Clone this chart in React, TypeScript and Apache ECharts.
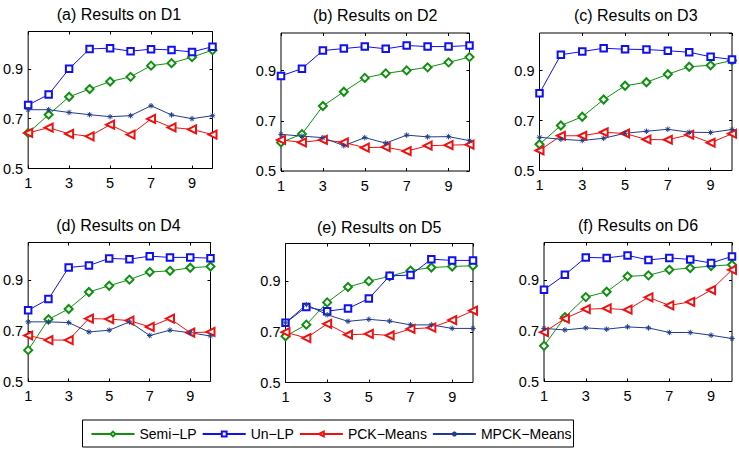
import React, { useEffect, useRef } from "react";
import * as echarts from "echarts";

// Number of constraint levels on the horizontal axis
const levels = [1, 2, 3, 4, 5, 6, 7, 8, 9, 10];

const panelTitles = [
  "(a) Results on D1",
  "(b) Results on D2",
  "(c) Results on D3",
  "(d) Results on D4",
  "(e) Results on D5",
  "(f) Results on D6",
];

const methodNames = ["Semi−LP", "Un−LP", "PCK−Means", "MPCK−Means"];

// One row per data set (D1..D6), one value per level
const semiLP = [
  [0.643, 0.716, 0.788, 0.819, 0.849, 0.868, 0.913, 0.923, 0.947, 0.975],
  [0.614, 0.647, 0.759, 0.816, 0.871, 0.889, 0.901, 0.913, 0.933, 0.954],
  [0.605, 0.68, 0.715, 0.784, 0.839, 0.853, 0.885, 0.915, 0.921, 0.94],
  [0.624, 0.746, 0.787, 0.854, 0.879, 0.903, 0.933, 0.938, 0.95, 0.955],
  [0.683, 0.729, 0.817, 0.878, 0.901, 0.92, 0.943, 0.955, 0.959, 0.962],
  [0.641, 0.755, 0.834, 0.855, 0.916, 0.92, 0.942, 0.949, 0.957, 0.962],
];

const unLP = [
  [0.755, 0.797, 0.9, 0.98, 0.983, 0.971, 0.979, 0.976, 0.968, 0.989],
  [0.879, 0.908, 0.98, 0.988, 0.996, 0.987, 1.0, 0.996, 0.996, 1.0],
  [0.809, 0.963, 0.976, 0.989, 0.985, 0.984, 0.979, 0.973, 0.955, 0.944],
  [0.782, 0.826, 0.951, 0.959, 0.987, 0.984, 0.996, 0.991, 0.991, 0.988],
  [0.736, 0.799, 0.782, 0.793, 0.832, 0.922, 0.925, 0.988, 0.983, 0.983],
  [0.863, 0.922, 0.991, 0.989, 0.999, 0.981, 0.989, 0.983, 0.969, 0.995],
];

const pckMeans = [
  [0.643, 0.664, 0.639, 0.629, 0.676, 0.636, 0.699, 0.665, 0.657, 0.636],
  [0.624, 0.614, 0.624, 0.614, 0.593, 0.595, 0.579, 0.601, 0.603, 0.605],
  [0.58, 0.639, 0.639, 0.653, 0.648, 0.624, 0.623, 0.643, 0.611, 0.647],
  [0.682, 0.664, 0.664, 0.749, 0.747, 0.741, 0.716, 0.749, 0.693, 0.696],
  [0.699, 0.676, 0.732, 0.689, 0.692, 0.686, 0.712, 0.717, 0.747, 0.784],
  [0.695, 0.749, 0.786, 0.789, 0.784, 0.833, 0.801, 0.815, 0.862, 0.942],
];

const mpckMeans = [
  [0.736, 0.736, 0.725, 0.716, 0.708, 0.712, 0.752, 0.715, 0.7, 0.712],
  [0.646, 0.639, 0.633, 0.601, 0.633, 0.611, 0.643, 0.636, 0.637, 0.621],
  [0.633, 0.625, 0.62, 0.629, 0.649, 0.657, 0.665, 0.653, 0.652, 0.664],
  [0.736, 0.736, 0.733, 0.696, 0.703, 0.736, 0.682, 0.703, 0.693, 0.68],
  [0.736, 0.808, 0.768, 0.742, 0.75, 0.743, 0.728, 0.728, 0.714, 0.714],
  [0.71, 0.704, 0.712, 0.707, 0.716, 0.712, 0.694, 0.694, 0.683, 0.67],
];

const yTicks = [0.5, 0.7, 0.9];

const FONT = "'Liberation Sans', Arial, Helvetica, sans-serif";

// Plot boxes: left, top, width, height (px)
const boxes = [
  [25.5, 31.5, 187, 137],
  [281, 33, 188.5, 138],
  [539.5, 33, 192.5, 137.5],
  [26.5, 242.5, 184, 139],
  [285.5, 243.5, 187.5, 139],
  [544, 242.5, 188, 139],
];
const titleY = [14, 15.8, 15.8, 225, 227.5, 225];

const asterisk = "path://M0,5L10,5M5,0L5,10M1.5,1.5L8.5,8.5M8.5,1.5L1.5,8.5";

const styles = [
  { color: "#109010", symbol: "emptyDiamond", size: 8, rotate: 0 },
  { color: "#1010f0", symbol: "emptyRect", size: 6.5, rotate: 0 },
  { color: "#f01010", symbol: "emptyTriangle", size: 8, rotate: 90 },
  { color: "#203c8c", symbol: asterisk, size: 5.5, rotate: 0 },
];

function buildOption() {
  const grid: any[] = [];
  const xAxis: any[] = [];
  const yAxis: any[] = [];
  const series: any[] = [];
  const graphic: any[] = [];
  const allData = [semiLP, unLP, pckMeans, mpckMeans];

  boxes.forEach(([l, t, w, h], i) => {
    grid.push({
      left: l,
      top: t,
      width: w,
      height: h,
      show: true,
      borderColor: "#000",
      borderWidth: 1,
      backgroundColor: "transparent",
    });
    const xBase = {
      type: "value",
      gridIndex: i,
      min: 1,
      max: 10,
      interval: 2,
      splitLine: { show: false },
      axisLine: { show: false, onZero: false },
      axisTick: { show: true, inside: true, length: 3, lineStyle: { color: "#000" } },
    };
    xAxis.push({
      ...xBase,
      position: "bottom",
      axisLabel: {
        show: true,
        showMaxLabel: false,
        margin: 7,
        color: "#000",
        fontSize: 14.5,
        fontFamily: FONT,
      },
    });
    xAxis.push({ ...xBase, position: "top", axisLabel: { show: false } });
    const yBase = {
      type: "value",
      gridIndex: i,
      min: 0.5,
      max: 1.05,
      interval: 0.2,
      splitLine: { show: false },
      axisLine: { show: false, onZero: false },
      axisTick: { show: true, inside: true, length: 3, lineStyle: { color: "#000" } },
    };
    yAxis.push({
      ...yBase,
      position: "left",
      axisLabel: {
        show: true,
        showMaxLabel: false,
        margin: 5,
        color: "#000",
        fontSize: 14.5,
        fontFamily: FONT,
        formatter: (v: number) => {
          const hit = yTicks.find((t) => Math.abs(t - v) < 1e-6);
          return hit === undefined ? "" : hit.toFixed(1);
        },
      },
    });
    yAxis.push({ ...yBase, position: "right", axisLabel: { show: false } });

    allData.forEach((rows, m) => {
      const s = styles[m];
      series.push({
        type: "line",
        name: methodNames[m],
        xAxisIndex: 2 * i,
        yAxisIndex: 2 * i,
        data: levels.map((x, k) => [x, rows[i][k]]),
        symbol: s.symbol,
        symbolSize: s.size,
        symbolRotate: s.rotate,
        showSymbol: true,
        clip: false,
        lineStyle: { color: s.color, width: 1 },
        itemStyle: {
          color: s.color,
          borderColor: s.color,
          borderWidth: 1,
        },
        emphasis: { disabled: true },
      });
    });

    graphic.push({
      type: "text",
      x: l + w / 2,
      y: titleY[i],
      style: {
        text: panelTitles[i],
        fontSize: 16,
        fontFamily: FONT,
        fill: "#000",
        align: "center",
        verticalAlign: "middle",
        textAlign: "center",
        textVerticalAlign: "middle",
      },
    });
  });

  return {
    animation: false,
    backgroundColor: "#fff",
    grid,
    xAxis,
    yAxis,
    series,
    graphic,
    legend: {
      data: methodNames,
      left: 82.5,
      top: 420,
      orient: "horizontal",
      itemWidth: 43,
      itemHeight: 6,
      itemGap: 5,
      padding: [7, 2, 6, 8],
      borderColor: "#000",
      borderWidth: 1,
      textStyle: { color: "#000", fontSize: 14, fontFamily: FONT },
      selectedMode: false,
    },
  };
}

export default function App() {
  const ref = useRef<HTMLDivElement>(null);
  useEffect(() => {
    if (!ref.current) return;
    const chart = echarts.init(ref.current, undefined, { renderer: "svg" });
    chart.setOption(buildOption() as any);
    return () => chart.dispose();
  }, []);
  return (
    <div
      ref={ref}
      style={{ position: "absolute", left: 0, top: 0, width: 739, height: 450, background: "#fff" }}
    />
  );
}
